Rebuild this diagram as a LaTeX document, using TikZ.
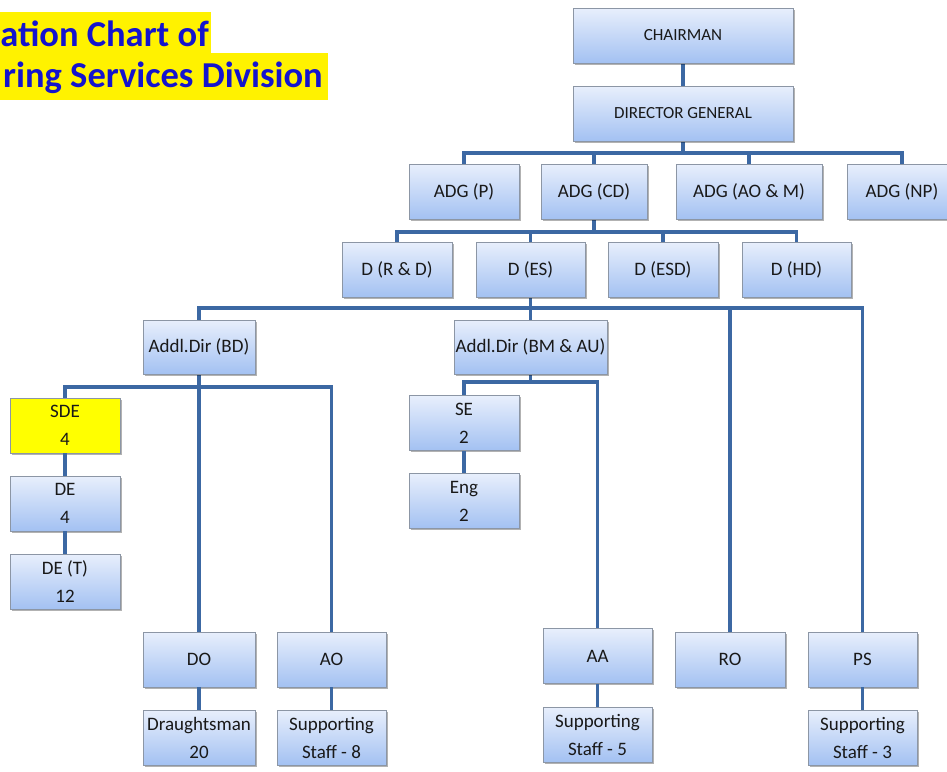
\documentclass[tikz,border=0pt]{standalone}
\usepackage{fontspec}
\setmainfont{Carlito}
\usetikzlibrary{shadows}
\definecolor{linkblue}{RGB}{60,104,163}
\definecolor{boxtop}{RGB}{232,239,252}
\definecolor{boxbot}{RGB}{163,193,242}
\definecolor{boxedge}{RGB}{140,150,165}
\definecolor{titleblue}{RGB}{20,20,205}
\definecolor{labeltext}{RGB}{25,25,25}
\begin{document}
\begin{tikzpicture}[x=1pt,y=-1pt,
  orgbox/.style={draw=boxedge, line width=0.8pt, top color=boxtop, bottom color=boxbot,
    minimum height=55pt, inner sep=0pt, align=center, text=labeltext,
    font=\fontsize{19}{28}\selectfont,
    drop shadow={shadow xshift=1.6pt, shadow yshift=-1.6pt, fill=black, opacity=0.3}},
  topbox/.style={orgbox, font=\fontsize{17}{20}\selectfont},
  hibox/.style={orgbox, top color=yellow, bottom color=yellow, fill=yellow},
  link/.style={draw=linkblue, line width=3.6pt, line join=miter},
  titletext/.style={inner sep=0pt, text=titleblue, font=\fontsize{36.5}{40}\selectfont\bfseries}]
\clip (0,0) rectangle (947,771);
\fill[white] (0,0) rectangle (947,771);

% title with yellow highlight
\fill[yellow] (0,12) rectangle (211,53);
\fill[yellow] (0,53) rectangle (328,100);
\node[titletext, anchor=base east] (title1) at (209,46) {ation Chart of};
\node[titletext, anchor=base east] (title2) at (323,87) {ring Services Division};

% bus bars
\coordinate (busA) at (683,153);
\coordinate (busB) at (594,232);
\coordinate (busC) at (530.5,308);
\coordinate (busD) at (199,387);
\coordinate (busE) at (530.5,382);

% connectors
\draw[link] (683,63) -- (683,86);
\draw[link] (683,141) -- (busA);
\draw[link] (464,164) |- (busA) -| (902,164);
\draw[link] (busA) -| (594,164);
\draw[link] (busA) -| (749,164);
\draw[link] (594,219) -- (busB);
\draw[link] (397,242) |- (busB) -| (796.5,242);
\draw[link] (busB) -| (530.5,242);
\draw[link] (busB) -| (663,242);
\draw[link] (530.5,297) -- (busC);
\draw[link] (199,320) |- (busC) -| (862.5,632);
\draw[link] (busC) -- (530.5,320);
\draw[link] (busC) -| (730,632);
\draw[link] (199,374) -- (busD);
\draw[link] (65,398) |- (busD) -| (331.5,632);
\draw[link] (busD) -- (199,632);
\draw[link] (530.5,374) -- (busE);
\draw[link] (464,396) |- (busE) -| (597.5,628);

% boxes
\node[topbox, minimum width=220pt] (ch) at (683,35.5) {CHAIRMAN};
\node[topbox, minimum width=220pt] (dg) at (683,113.5) {DIRECTOR GENERAL};

\node[orgbox, minimum width=110pt] (adgp) at (464,191.5) {ADG (P)};
\node[orgbox, minimum width=106pt] (adgcd) at (594,191.5) {ADG (CD)};
\node[orgbox, minimum width=146pt] (adgao) at (749,191.5) {ADG (AO \& M)};
\node[orgbox, minimum width=110pt] (adgnp) at (902,191.5) {ADG (NP)};

\node[orgbox, minimum width=110pt] (drd) at (397,269.5) {D (R \& D)};
\node[orgbox, minimum width=109pt] (des) at (530.5,269.5) {D (ES)};
\node[orgbox, minimum width=110pt] (desd) at (663,269.5) {D (ESD)};
\node[orgbox, minimum width=109pt] (dhd) at (796.5,269.5) {D (HD)};

\node[orgbox, minimum width=112pt, minimum height=54pt] (abd) at (199,347) {Addl.Dir (BD)};
\node[orgbox, minimum width=153pt, minimum height=54pt] (abm) at (530.5,347) {Addl.Dir (BM \& AU)};

\node[hibox, minimum width=110pt] (sde) at (65,425.5) {SDE\\4};
\node[orgbox, minimum width=110pt] (de) at (65,503.5) {DE\\4};
\node[orgbox, minimum width=110pt] (det) at (65,581.5) {DE (T)\\12};

\node[orgbox, minimum width=110pt] (se) at (464,423) {SE\\2};
\node[orgbox, minimum width=110pt] (eng) at (464,501) {Eng\\2};

\node[orgbox, minimum width=112pt] (do) at (199,659.5) {DO};
\node[orgbox, minimum width=109pt] (ao) at (331.5,659.5) {AO};
\node[orgbox, minimum width=109pt] (aa) at (597.5,656) {AA};
\node[orgbox, minimum width=110pt] (ro) at (730,659.5) {RO};
\node[orgbox, minimum width=109pt] (ps) at (862.5,659.5) {PS};

\node[orgbox, minimum width=112pt] (dm) at (199,737.5) {Draughtsman\\20};
\node[orgbox, minimum width=109pt] (ss8) at (331.5,737.5) {Supporting\\Staff - 8};
\node[orgbox, minimum width=109pt] (ss5) at (597.5,734.5) {Supporting\\Staff - 5};
\node[orgbox, minimum width=109pt] (ss3) at (862.5,737.5) {Supporting\\Staff - 3};

% vertical chains between stacked boxes
\draw[link] (sde) -- (de);
\draw[link] (de) -- (det);
\draw[link] (se) -- (eng);
\draw[link] (do) -- (dm);
\draw[link] (ao) -- (ss8);
\draw[link] (aa) -- (ss5);
\draw[link] (ps) -- (ss3);
\end{tikzpicture}
\end{document}
